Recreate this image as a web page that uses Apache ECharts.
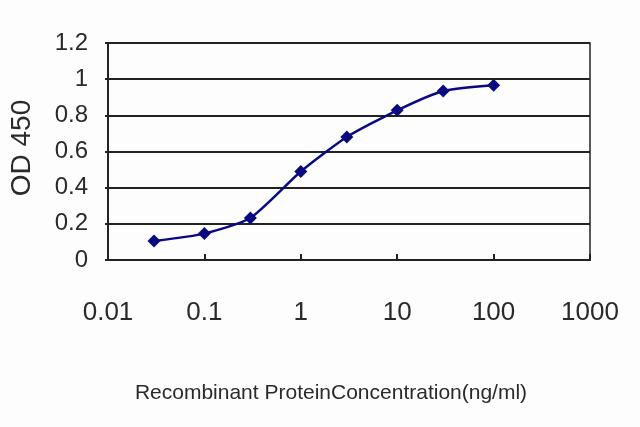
<!DOCTYPE html>
<html>
<head>
<meta charset="utf-8">
<script src="https://cdn.jsdelivr.net/npm/echarts@6/dist/echarts.min.js"></script>
<style>
html,body{margin:0;padding:0;background:#fdfdfd;}
#c{width:640px;height:427px;}
</style>
</head>
<body>
<div id="c"></div>
<script>
var concentrations = [0.03, 0.1, 0.3, 1, 3, 10, 30, 100];
var odValues = [0.105, 0.146, 0.232, 0.489, 0.68, 0.828, 0.935, 0.967];
var xTitle = 'Recombinant ProteinConcentration(ng/ml)';
var yTitle = 'OD 450';

var chart = echarts.init(document.getElementById('c'), null, {renderer: 'canvas'});
var pts = concentrations.map(function (c, i) { return [c, odValues[i]]; });
chart.setOption({
  animation: false,
  backgroundColor: '#fdfdfd',
  grid: {left: 108, right: 50, top: 43, bottom: 167, show: true, borderColor: '#222', borderWidth: 1.5, backgroundColor: 'transparent'},
  xAxis: {
    type: 'log', logBase: 10, min: 0.01, max: 1000,
    axisLine: {lineStyle: {color: '#222', width: 2}},
    axisTick: {show: true, inside: true, length: 6, lineStyle: {color: '#222', width: 2}},
    splitLine: {show: false},
    minorTick: {show: false},
    axisLabel: {margin: 40, fontFamily: 'Liberation Sans, Arial, sans-serif', fontSize: 26, color: '#2a2a2a',
      formatter: function (v) { return String(+v.toPrecision(6)); }}
  },
  yAxis: {
    type: 'value', min: 0, max: 1.2, interval: 0.2,
    axisLine: {show: true, lineStyle: {color: '#222', width: 2}},
    axisTick: {show: true, length: 3, lineStyle: {color: '#222', width: 2}},
    splitLine: {show: true, lineStyle: {color: '#222', width: 2}},
    axisLabel: {margin: 20, fontFamily: 'Liberation Sans, Arial, sans-serif', fontSize: 24, color: '#2a2a2a',
      formatter: function (v) { return String(+v.toFixed(1)); }}
  },
  graphic: [
    {type: 'text', x: 22, y: 148, rotation: Math.PI / 2,
      style: {text: yTitle, font: '28px "Liberation Sans", Arial, sans-serif', fill: '#2a2a2a', align: 'center', verticalAlign: 'middle'}},
    {type: 'text', x: 331, y: 393,
      style: {text: xTitle, font: '21px "Liberation Sans", Arial, sans-serif', fill: '#2a2a2a', align: 'center', verticalAlign: 'middle'}}
  ],
  series: [{
    type: 'line', data: pts, smooth: 0.2,
    symbol: 'diamond', symbolSize: 13,
    lineStyle: {color: '#0a0a80', width: 2.5},
    itemStyle: {color: '#0a0a80'}
  }]
});
</script>
</body>
</html>
